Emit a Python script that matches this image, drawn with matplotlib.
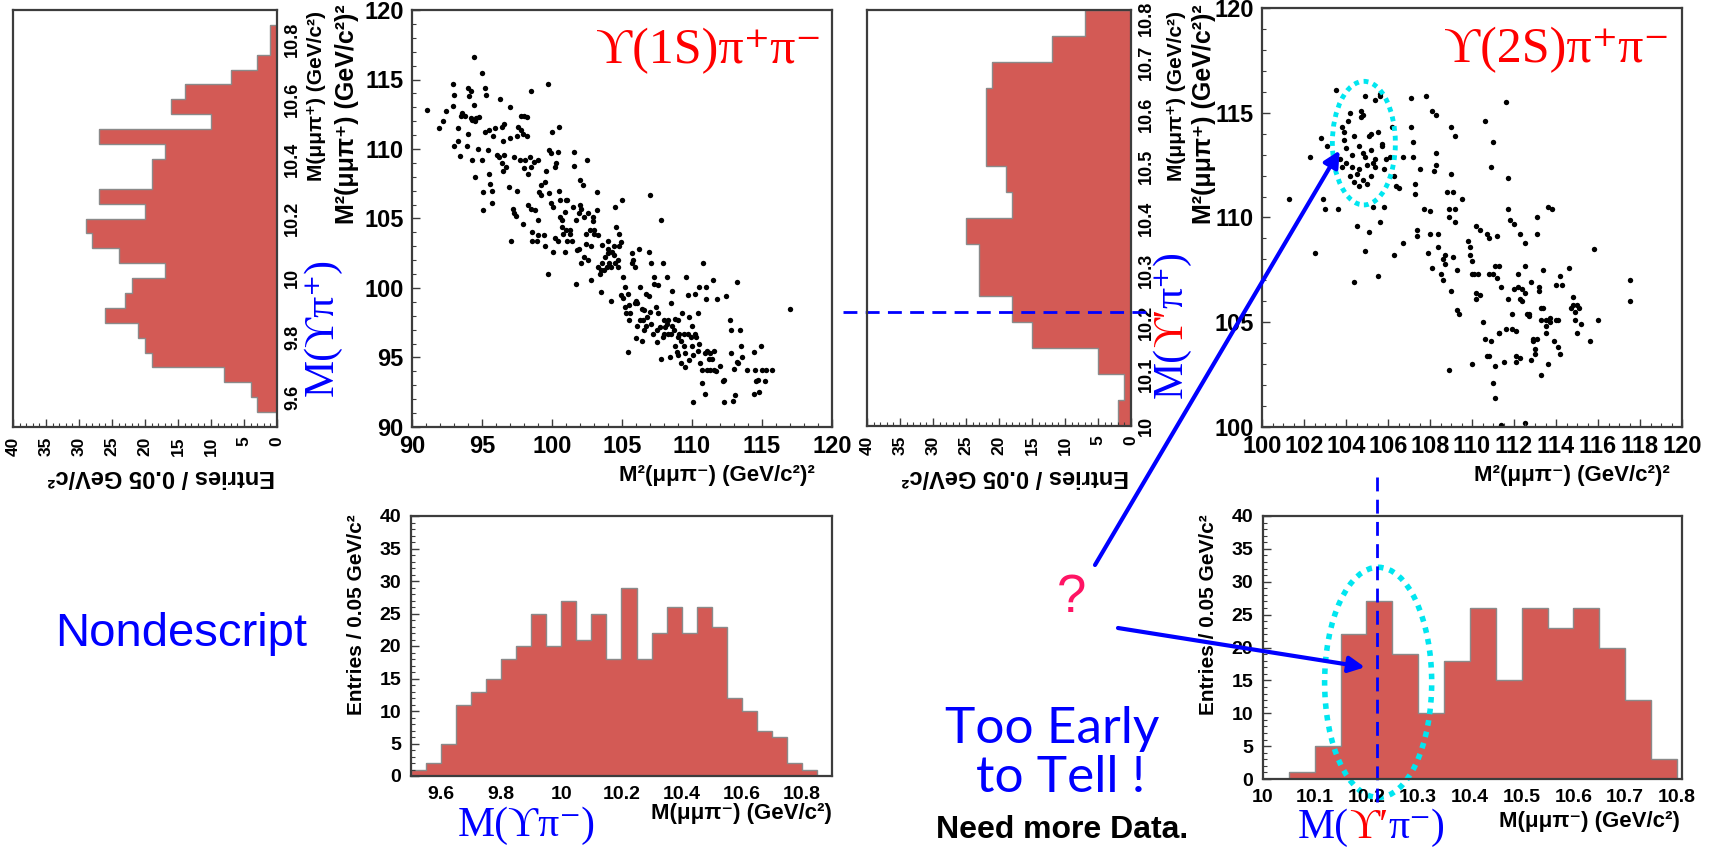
import matplotlib
matplotlib.use("Agg")
import matplotlib.pyplot as plt
import numpy as np
from matplotlib.patches import Ellipse
from matplotlib.ticker import MultipleLocator, FuncFormatter

# ---- data ----
# M(Y pi+) projection (left, rotated), 0.05 GeV bins starting at 9.55
ypip_lo = 9.55
ypip_counts = [3, 4, 8, 19, 20, 21, 26, 23, 22, 17, 24, 28, 29, 20, 27, 19, 19, 17, 27, 10, 16, 14, 7, 3, 1, 1]

# M(Y pi-) projection (bottom left), bins starting at 9.50
ypim_lo = 9.50
ypim_counts = [1, 2, 5, 11, 13, 15, 18, 20, 25, 20, 27, 21, 25, 18, 29, 18, 22, 26, 22, 26, 23, 12, 10, 7, 6, 2, 1]

# M(Y' pi+) projection (middle, rotated), bins starting at 10.00
y2pip_lo = 10.00
y2pip_counts = [2, 1, 5, 15, 18, 23, 23, 25, 18, 19, 22, 22, 22, 21, 12, 7]

# M(Y' pi-) projection (bottom right), bins starting at 10.00
y2pim_lo = 10.00
y2pim_counts = [0, 1, 5, 22, 27, 19, 10, 18, 26, 15, 26, 23, 26, 20, 12, 3]

# Dalitz plot Y(1S) pi+ pi-
s1_x = [91.1, 91.9, 92.2, 92.4, 92.9, 93.0, 92.9, 93.0, 93.3, 93.3, 93.4, 93.5, 93.6, 93.8, 93.9, 94.0,
        94.0, 94.1, 94.2, 94.2, 94.3, 94.3, 94.4, 94.4, 94.5, 94.5, 94.6, 94.7, 94.8, 95.0, 95.0, 95.1,
        95.1, 95.2, 95.2, 95.3, 95.4, 95.5, 95.5, 95.6, 95.7, 95.7, 95.8, 95.9, 96.1, 96.2, 96.3, 96.4,
        96.4, 96.5, 96.5, 96.6, 96.6, 96.7, 96.9, 97.0, 97.0, 97.1, 97.2, 97.3, 97.3, 97.4, 97.5, 97.5,
        97.6, 97.7, 97.8, 97.8, 97.9, 97.9, 98.0, 98.0, 98.1, 98.2, 98.2, 98.3, 98.3, 98.4, 98.5, 98.5,
        98.5, 98.6, 98.6, 98.7, 98.8, 98.9, 99.0, 99.0, 99.0, 99.1, 99.2, 99.2, 99.4, 99.5, 99.5, 99.6,
        99.7, 99.7, 99.8, 99.8, 99.9, 99.9, 100.0, 100.1, 100.1, 100.2, 100.2, 100.3, 100.4, 100.4, 100.5, 100.5,
        100.6, 100.6, 100.7, 100.7, 100.8, 100.9, 100.9, 101.0, 101.0, 101.1, 101.1, 101.3, 101.3, 101.4, 101.5, 101.6,
        101.6, 101.7, 101.7, 101.8, 101.9, 101.9, 102.0, 102.0, 102.1, 102.1, 102.2, 102.3, 102.3, 102.4, 102.4, 102.5,
        102.6, 102.6, 102.7, 102.8, 102.8, 102.9, 102.9, 103.0, 103.0, 103.2, 103.2, 103.3, 103.3, 103.4, 103.5, 103.5,
        103.6, 103.6, 103.7, 103.8, 103.9, 104.0, 104.0, 104.0, 104.1, 104.2, 104.2, 104.3, 104.4, 104.4, 104.5, 104.5,
        104.6, 104.7, 104.7, 104.8, 104.8, 104.9, 104.9, 105.0, 105.1, 105.1, 105.2, 105.2, 105.3, 105.4, 105.4, 105.5,
        105.5, 105.6, 105.7, 105.7, 105.8, 105.9, 105.9, 106.0, 106.0, 106.1, 106.1, 106.2, 106.3, 106.3, 106.4, 106.4,
        106.5, 106.6, 106.6, 106.7, 106.7, 106.8, 106.9, 106.9, 107.0, 107.0, 107.1, 107.1, 107.2, 107.3, 107.3, 107.4,
        107.5, 107.5, 107.6, 107.6, 107.7, 107.8, 107.8, 107.9, 107.9, 108.0, 108.0, 108.1, 108.2, 108.2, 108.3, 108.3,
        108.4, 108.5, 108.5, 108.6, 108.6, 108.7, 108.8, 108.8, 108.9, 109.0, 109.0, 109.0, 109.1, 109.2, 109.2, 109.3,
        109.4, 109.4, 109.5, 109.5, 109.6, 109.7, 109.7, 109.8, 109.8, 109.9, 110.0, 110.0, 110.1, 110.1, 110.2, 110.2,
        110.3, 110.4, 110.4, 110.5, 110.5, 110.6, 110.7, 110.7, 110.8, 110.9, 110.9, 111.0, 111.0, 111.1, 111.1, 111.2,
        111.3, 111.3, 111.4, 111.5, 111.6, 111.6, 111.7, 111.8, 112.0, 112.2, 112.3, 112.3, 112.4, 112.7, 112.8, 112.8,
        112.9, 113.0, 113.1, 113.2, 113.2, 113.3, 113.4, 113.5, 113.6, 113.9, 114.4, 114.4, 114.5, 114.6, 114.7, 114.8,
        114.9, 115.0, 115.2, 115.3, 115.7, 117.0]
s1_y = [112.8, 111.5, 112.0, 112.7, 114.7, 113.9, 113.1, 110.2, 110.6, 111.5, 109.5, 112.4, 112.6, 112.4, 110.2, 111.1,
        114.4, 113.8, 114.2, 112.2, 109.2, 112.1, 113.2, 116.6, 112.0, 108.0, 112.2, 110.0, 112.3, 115.5, 109.2, 106.9,
        105.6, 111.2, 114.4, 113.9, 109.9, 111.4, 108.2, 107.5, 107.0, 106.1, 110.9, 111.5, 109.6, 109.4, 113.6, 111.6,
        109.0, 110.6, 108.4, 109.6, 111.8, 108.7, 107.3, 113.0, 110.8, 103.4, 105.7, 105.4, 109.4, 105.2, 107.0, 110.9,
        111.6, 109.2, 111.4, 112.4, 111.1, 104.6, 112.4, 108.6, 109.2, 112.3, 110.9, 106.0, 108.2, 109.4, 108.7, 114.2,
        105.7, 104.0, 103.4, 109.1, 105.6, 103.4, 103.8, 109.2, 104.9, 106.9, 106.7, 107.4, 103.8, 103.0, 107.6, 108.4,
        114.7, 101.0, 106.8, 109.9, 109.7, 106.1, 111.2, 105.8, 102.6, 108.7, 103.6, 109.0, 109.8, 103.4, 111.6, 107.0,
        105.1, 106.3, 104.4, 104.9, 103.9, 102.6, 105.5, 106.3, 104.2, 103.4, 106.3, 103.9, 104.2, 103.4, 105.8, 109.8,
        108.8, 100.3, 104.9, 102.7, 105.4, 102.8, 106.0, 107.8, 101.8, 105.7, 107.4, 105.1, 102.2, 103.2, 103.9, 109.2,
        105.4, 102.0, 104.2, 103.0, 100.6, 105.1, 104.8, 103.9, 104.2, 105.6, 106.9, 103.8, 101.5, 101.0, 99.7, 101.3,
        101.8, 103.1, 101.3, 102.2, 101.5, 103.4, 102.5, 102.8, 101.8, 101.5, 99.1, 102.6, 103.0, 102.4, 101.8, 105.8,
        104.4, 101.5, 102.0, 103.9, 103.0, 103.3, 99.5, 106.3, 99.3, 100.8, 100.1, 98.6, 98.2, 99.6, 95.4, 97.7,
        98.8, 98.2, 102.5, 101.8, 102.0, 101.5, 98.9, 99.1, 96.4, 97.3, 98.9, 102.8, 97.7, 100.1, 96.2, 98.5,
        97.7, 97.0, 98.4, 99.6, 97.3, 97.9, 102.6, 99.4, 106.7, 98.3, 101.8, 97.4, 96.7, 100.3, 100.8, 98.6,
        97.0, 96.1, 98.2, 100.2, 97.2, 94.9, 104.9, 101.8, 96.5, 97.7, 96.7, 97.2, 100.8, 97.4, 96.7, 97.7,
        95.0, 96.7, 98.9, 99.8, 97.3, 97.0, 97.8, 95.8, 95.4, 96.5, 95.2, 97.7, 96.7, 94.6, 96.2, 98.2,
        95.8, 96.7, 94.3, 95.3, 100.8, 96.7, 99.5, 97.9, 94.8, 96.5, 97.3, 95.8, 91.8, 95.2, 99.6, 96.7,
        96.5, 98.2, 95.5, 100.1, 96.0, 94.6, 94.1, 93.2, 101.8, 92.4, 95.3, 99.2, 100.1, 95.5, 94.1, 94.9,
        95.3, 94.1, 94.9, 100.6, 94.1, 95.5, 94.0, 99.2, 94.4, 93.3, 91.8, 93.4, 99.4, 97.7, 97.0, 95.3,
        91.9, 94.2, 92.3, 94.7, 100.4, 94.6, 97.0, 95.8, 95.0, 94.1, 92.4, 95.4, 94.1, 93.3, 93.4, 92.5,
        95.8, 94.1, 93.3, 94.1, 94.1, 98.5]

# Dalitz plot Y(2S) pi+ pi-
s2_x = [101.3, 102.3, 102.5, 102.8, 102.9, 103.0, 103.1, 103.5, 103.6, 103.7, 103.8, 103.8, 103.9, 103.9, 104.0, 104.0,
        104.1, 104.2, 104.2, 104.3, 104.3, 104.4, 104.4, 104.4, 104.5, 104.5, 104.6, 104.6, 104.6, 104.7, 104.7, 104.8,
        104.8, 104.8, 104.9, 104.9, 104.9, 105.0, 105.0, 105.1, 105.1, 105.2, 105.2, 105.2, 105.3, 105.3, 105.4, 105.4,
        105.4, 105.5, 105.5, 105.6, 105.6, 105.6, 105.7, 105.7, 105.8, 105.8, 105.9, 106.1, 106.2, 106.3, 106.3, 106.4,
        106.5, 106.7, 106.7, 107.1, 107.1, 107.2, 107.2, 107.3, 107.3, 107.4, 107.4, 107.5, 107.7, 107.8, 107.9, 108.0,
        108.0, 108.1, 108.1, 108.2, 108.3, 108.3, 108.3, 108.4, 108.4, 108.5, 108.6, 108.6, 108.7, 108.7, 108.8, 108.9,
        108.9, 108.9, 109.0, 109.0, 109.0, 109.1, 109.1, 109.2, 109.2, 109.2, 109.3, 109.3, 109.4, 109.5, 109.8, 109.9,
        109.9, 110.0, 110.0, 110.0, 110.1, 110.2, 110.2, 110.2, 110.3, 110.4, 110.4, 110.5, 110.6, 110.6, 110.7, 110.7,
        110.8, 110.8, 110.8, 110.9, 110.9, 111.0, 111.0, 111.0, 111.1, 111.1, 111.1, 111.2, 111.2, 111.3, 111.3, 111.3,
        111.4, 111.5, 111.6, 111.6, 111.7, 111.7, 111.7, 111.8, 111.9, 111.9, 112.0, 112.0, 112.1, 112.1, 112.1, 112.2,
        112.2, 112.3, 112.3, 112.3, 112.4, 112.4, 112.5, 112.5, 112.5, 112.6, 112.7, 112.7, 112.8, 112.8, 112.9, 112.9,
        113.0, 113.0, 113.1, 113.1, 113.1, 113.2, 113.2, 113.3, 113.3, 113.3, 113.4, 113.4, 113.5, 113.5, 113.5, 113.6,
        113.6, 113.7, 113.7, 113.8, 113.9, 114.0, 114.0, 114.1, 114.1, 114.2, 114.2, 114.3, 114.6, 114.7, 114.8, 114.8,
        114.9, 114.9, 115.0, 115.0, 115.1, 115.2, 115.6, 115.8, 116.0, 117.5, 117.5, 111.4, 112.5]
s2_y = [110.9, 112.9, 108.3, 113.8, 110.9, 110.4, 113.4, 116.1, 110.4, 112.8, 112.4, 114.3, 113.7, 114.1, 113.3, 112.6,
        114.6, 115.0, 112.0, 112.4, 113.0, 106.9, 111.7, 113.9, 109.6, 112.1, 112.3, 113.4, 111.5, 114.8, 115.1, 113.1,
        114.9, 111.8, 108.4, 115.8, 112.9, 111.6, 112.5, 109.3, 113.9, 114.0, 112.0, 113.2, 112.6, 110.5, 115.6, 112.8,
        112.4, 114.1, 107.2, 109.8, 115.8, 115.9, 113.4, 113.5, 112.3, 110.5, 112.8, 112.9, 114.3, 112.0, 108.2, 111.5,
        111.4, 112.9, 108.8, 114.3, 115.7, 113.6, 112.9, 111.1, 111.6, 109.4, 109.1, 112.3, 110.4, 115.8, 108.3, 109.2,
        110.3, 115.1, 107.6, 112.2, 114.9, 113.1, 112.5, 108.6, 109.2, 107.3, 108.0, 107.0, 107.8, 108.2, 111.2, 110.4,
        110.0, 102.7, 112.1, 106.5, 114.3, 111.2, 108.1, 113.9, 110.4, 109.8, 105.6, 107.5, 105.4, 110.9, 108.9, 108.6,
        108.2, 107.9, 103.0, 107.3, 107.3, 106.4, 109.6, 106.1, 107.3, 106.3, 109.4, 105.0, 114.6, 104.2, 109.2, 103.4,
        109.0, 103.4, 107.3, 112.4, 104.1, 107.3, 113.6, 102.1, 101.4, 107.7, 102.9, 109.1, 107.1, 104.5, 104.5, 107.7,
        106.7, 103.1, 115.5, 104.7, 110.4, 111.9, 106.1, 109.9, 105.4, 104.7, 109.7, 106.6, 103.4, 103.1, 104.6, 107.3,
        106.7, 109.2, 106.1, 103.3, 106.6, 106.0, 107.7, 108.8, 106.4, 105.4, 105.3, 105.4, 106.9, 103.2, 104.2, 104.1,
        103.7, 103.5, 104.2, 110.0, 109.2, 106.7, 106.5, 105.7, 102.5, 105.1, 105.7, 107.5, 105.1, 104.8, 104.5, 103.0,
        110.5, 105.0, 105.2, 110.4, 104.1, 105.1, 106.8, 105.1, 103.8, 107.2, 103.5, 106.8, 107.6, 105.7, 106.2, 105.8,
        105.5, 105.1, 104.5, 105.8, 105.7, 104.9, 104.1, 108.5, 105.1, 107.0, 106.0, 100.1, 100.2]

# ---- figure layout (pixel boxes on a 1712x849 canvas) ----
W, H = 1712, 849
plt.rcParams['font.family'] = ['Liberation Sans', 'DejaVu Sans']
plt.rcParams['font.weight'] = 'bold'
fig = plt.figure(figsize=(W / 100, H / 100), dpi=100)

fill = '#d35a55'
edge = '#8a8a8a'
frame = '#3c3c3c'
blue = '#0000ff'
red = '#ff0000'
cyan = '#00e6f0'
serif = ['Liberation Serif', 'DejaVu Serif']


def fx(x):
    return x / W


def fy(y):
    return 1 - y / H


def box(l, t, r, b):
    return fig.add_axes([l / W, 1 - b / H, (r - l) / W, (b - t) / H])


fmt = FuncFormatter(lambda v, p: '%g' % round(v, 3))
# the top label of the middle projection is written by hand so it stays inside the canvas
fmt_mid = FuncFormatter(lambda v, p: '' if abs(v - 10.8) < 1e-6 else '%g' % round(v, 3))


def style(ax):
    for s in ax.spines.values():
        s.set_color(frame)
        s.set_linewidth(1.6)
    ax.tick_params(which='both', direction='in', color=frame)
    ax.tick_params(which='major', length=6, width=1)
    ax.tick_params(which='minor', length=3, width=0.8)


def edges(lo, counts):
    return np.round(lo + 0.05 * np.arange(len(counts) + 1), 3)


def side_hist(ax, lo, counts, ylim, ymaj, yfmt):
    e = edges(lo, counts)
    ax.stairs(counts, e, orientation='horizontal', fill=True, color=fill)
    ax.stairs(counts, e, orientation='horizontal', color=edge, lw=1)
    ax.set_xlim(40, 0)
    ax.set_ylim(*ylim)
    style(ax)
    ax.yaxis.tick_right()
    ax.yaxis.set_major_locator(MultipleLocator(ymaj))
    ax.yaxis.set_major_formatter(yfmt)
    ax.tick_params(axis='y', length=0, labelrotation=90, labelsize=13, pad=5)
    ax.xaxis.set_major_locator(MultipleLocator(5))
    ax.xaxis.set_minor_locator(MultipleLocator(1))
    ax.tick_params(axis='x', labelrotation=90, labelsize=12.5, pad=7)
    for lab in ax.get_yticklabels():
        lab.set_va('center')


def low_hist(ax, lo, counts, xlim, xmaj):
    e = edges(lo, counts)
    ax.stairs(counts, e, fill=True, color=fill)
    ax.stairs(counts, e, color=edge, lw=1)
    ax.set_xlim(*xlim)
    ax.set_ylim(0, 40)
    style(ax)
    ax.xaxis.set_major_locator(MultipleLocator(xmaj))
    ax.xaxis.set_major_formatter(fmt)
    ax.tick_params(axis='x', length=0, labelsize=14, pad=7)
    ax.yaxis.set_major_locator(MultipleLocator(5))
    ax.yaxis.set_minor_locator(MultipleLocator(1))
    ax.tick_params(axis='y', labelsize=14, pad=7)


def dalitz(ax, xs, ys, lim, xmaj, xmin):
    ax.scatter(xs, ys, s=15, c='black', marker='o', linewidths=0)
    ax.set_xlim(*lim)
    ax.set_ylim(*lim)
    style(ax)
    ax.xaxis.set_major_locator(MultipleLocator(xmaj))
    ax.xaxis.set_minor_locator(MultipleLocator(xmin))
    ax.yaxis.set_major_locator(MultipleLocator(5))
    ax.yaxis.set_minor_locator(MultipleLocator(1))
    ax.xaxis.set_major_formatter(fmt)
    ax.yaxis.set_major_formatter(fmt)
    ax.tick_params(labelsize=17, pad=6)


def pieces(x, y, parts, rot=0, **kw):
    r = fig.canvas.get_renderer()
    for s, c in parts:
        t = fig.text(fx(x), fy(y), s, color=c, rotation=rot, rotation_mode='anchor',
                     ha='left', va='baseline', **kw)
        bb = t.get_window_extent(r)
        if rot == 90:
            y -= bb.height
        else:
            x += bb.width


# top row
ax_lh = box(13, 10, 277, 427)
side_hist(ax_lh, ypip_lo, ypip_counts, (9.5, 10.9), 0.2, fmt)

ax_s1 = box(412, 10, 832, 427)
dalitz(ax_s1, s1_x, s1_y, (90, 120), 5, 1)

ax_mh = box(867, 10, 1131, 426)
side_hist(ax_mh, y2pip_lo, y2pip_counts, (10.0, 10.8), 0.1, fmt_mid)
fig.text(fx(1138), fy(1), '10.8', rotation=90, ha='left', va='top', fontsize=13)

ax_s2 = box(1262, 8, 1682, 427)
dalitz(ax_s2, s2_x, s2_y, (100, 120), 2, 0.5)

# bottom row
ax_b1 = box(411, 516, 832, 776)
low_hist(ax_b1, ypim_lo, ypim_counts, (9.5, 10.9), 0.2)

ax_b2 = box(1263, 516, 1682, 779)
low_hist(ax_b2, y2pim_lo, y2pim_counts, (10.0, 10.81), 0.1)

# axis titles
ent = 'Entries / 0.05 GeV/c²'
for xc in (161, 1015):
    fig.text(fx(xc), fy(477), ent, rotation=180, ha='center', va='center', fontsize=17)
for xc in (356, 1209):
    fig.text(fx(xc), fy(514), ent, rotation=90, rotation_mode='anchor', ha='right', va='center', fontsize=15)
for xr in (815, 1670):
    fig.text(fx(xr), fy(475), 'M²(μμπ⁻) (GeV/c²)²', ha='right', va='center', fontsize=16)
for xr, yc in ((832, 814), (1680, 821)):
    fig.text(fx(xr), fy(yc), 'M(μμπ⁻) (GeV/c²)', ha='right', va='center', fontsize=16)
for xl, d2, d1 in ((412, 65, 95), (1262, 58, 86)):
    fig.text(fx(xl - d2), fy(4), 'M²(μμπ⁺) (GeV/c²)²', rotation=90, rotation_mode='anchor',
             ha='right', va='center', fontsize=18)
    fig.text(fx(xl - d1), fy(11), 'M(μμπ⁺) (GeV/c²)', rotation=90, rotation_mode='anchor',
             ha='right', va='center', fontsize=15)

# channel labels
fig.text(fx(822), fy(63), 'ϒ(1S)π⁺π⁻', color=red, family=serif, weight='normal',
         fontsize=36, ha='right', va='baseline')
fig.text(fx(1670), fy(62), 'ϒ(2S)π⁺π⁻', color=red, family=serif, weight='normal',
         fontsize=36, ha='right', va='baseline')

# mass combination labels
pieces(333, 396, [('M(ϒπ⁺)', blue)], rot=90, family=serif, weight='normal', fontsize=30)
pieces(1182, 398, [('M(', blue), ('ϒ′', red), ('π⁺)', blue)], rot=90,
       family=serif, weight='normal', fontsize=30)
pieces(458, 836, [('M(ϒπ⁻)', blue)], family=serif, weight='normal', fontsize=30)
pieces(1298, 838, [('M(', blue), ('ϒ′', red), ('π⁻)', blue)], family=serif, weight='normal', fontsize=30)

# commentary
fig.text(fx(55), fy(646), 'Nondescript', color=blue, weight='normal', fontsize=34, ha='left', va='baseline')
fig.text(fx(1072), fy(612), '?', color='#ff1464', weight='normal', fontsize=38, ha='center', va='baseline')
fig.text(fx(1052), fy(743), 'Too Early', color=blue, family='Lato', weight='normal', fontsize=37,
         ha='center', va='baseline')
fig.text(fx(1061), fy(792), 'to Tell !', color=blue, family='Lato', weight='normal', fontsize=37,
         ha='center', va='baseline')
fig.text(fx(1062), fy(838), 'Need more Data.', color='black', fontsize=23, ha='center', va='baseline')

# M = 10.22 guide lines
dash = dict(color=blue, lw=2, dashes=(5, 3), clip_on=False)
ax_mh.plot([-0.09, 1.07], [10.22, 10.22], transform=ax_mh.get_yaxis_transform(), **dash)
ax_b2.plot([10.22, 10.22], [1.15, -0.125], transform=ax_b2.get_xaxis_transform(), **dash)

# candidate regions
ax_s2.add_patch(Ellipse((104.85, 113.55), 3.0, 5.9, fill=False, edgecolor=cyan, lw=3.5,
                        linestyle=(0, (1, 1)), clip_on=False))
ax_b2.add_patch(Ellipse((10.2226, 14.7), 0.207, 35, fill=False, edgecolor=cyan, lw=4,
                        linestyle=(0, (1, 1.1)), clip_on=False))

# arrows from the question mark
arw = dict(arrowstyle='-|>', color=blue, lw=3, mutation_scale=24, shrinkA=0, shrinkB=0)
ax_s2.annotate('', xy=(103.7, 113.2), xycoords='data', xytext=(fx(1095), fy(565)),
               textcoords='figure fraction', arrowprops=arw, annotation_clip=False)
ax_b2.annotate('', xy=(10.197, 17.0), xycoords='data', xytext=(fx(1118), fy(628)),
               textcoords='figure fraction', arrowprops=arw, annotation_clip=False)

fig.savefig('out.png', dpi=100)
